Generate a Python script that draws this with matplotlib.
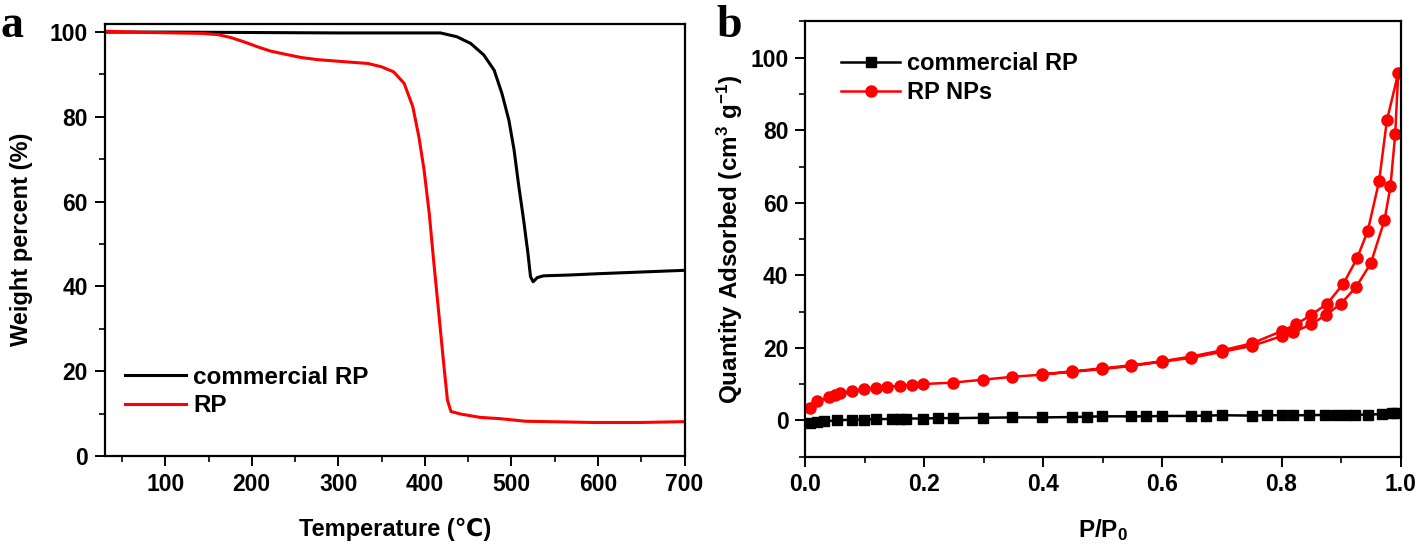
import numpy as np
import matplotlib
matplotlib.use('Agg')
import matplotlib.pyplot as plt
from matplotlib.ticker import MultipleLocator, FormatStrFormatter

plt.rcParams['font.family'] = ['Liberation Sans', 'DejaVu Sans']
plt.rcParams['font.weight'] = 'bold'
plt.rcParams['mathtext.fontset'] = 'custom'
plt.rcParams['mathtext.rm'] = 'Liberation Sans:bold'
plt.rcParams['mathtext.bf'] = 'Liberation Sans:bold'
plt.rcParams['mathtext.default'] = 'bf'

# (a) TGA data
temp_comm = [30, 100, 200, 300, 350, 418, 437, 453, 468, 480, 489, 497, 503, 508, 514,
             519, 522, 525, 530, 537, 568, 600, 650, 700]
wt_comm = [100.0, 100.0, 99.9, 99.8, 99.8, 99.8, 98.9, 97.3, 94.6, 91.0, 85.5, 79.2, 72.2,
           64.3, 55.7, 47.8, 42.3, 41.1, 42.1, 42.5, 42.7, 43.0, 43.4, 43.8]

temp_rp = [30, 84, 142, 161, 176, 191, 207, 222, 238, 257, 276, 295, 314, 334, 350,
           364, 376, 386, 393, 399, 405, 410, 416, 422, 426, 430, 441, 464, 487, 516,
           595, 648, 700]
wt_rp = [100.2, 99.9, 99.7, 99.4, 98.7, 97.7, 96.5, 95.5, 94.8, 94.0, 93.5, 93.2, 92.9,
         92.6, 91.8, 90.6, 87.9, 82.4, 75.3, 67.5, 57.2, 46.2, 33.7, 21.1, 13.2, 10.5,
         9.9, 9.1, 8.8, 8.2, 7.9, 7.9, 8.1]

# (b) N2 isotherm data
p_np = [0.008, 0.019, 0.04, 0.05, 0.058, 0.079, 0.098, 0.118, 0.138, 0.159, 0.179, 0.198,
        0.248, 0.298, 0.348, 0.398, 0.448, 0.498, 0.548, 0.6, 0.648, 0.7, 0.75, 0.8,
        0.82, 0.85, 0.875, 0.9, 0.925, 0.95, 0.973, 0.983, 0.991, 0.996,
        0.977, 0.964, 0.945, 0.927, 0.904, 0.877, 0.85, 0.825, 0.8, 0.75, 0.7, 0.648,
        0.6, 0.548, 0.498, 0.448, 0.398]
q_np = [3.5, 5.2, 6.4, 7.1, 7.4, 8.0, 8.6, 9.0, 9.3, 9.5, 9.8, 10.0,
        10.4, 11.2, 12.0, 12.6, 13.4, 14.1, 15.0, 16.2, 17.2, 18.9, 20.5, 23.2,
        24.3, 26.5, 29.1, 32.2, 36.7, 43.3, 55.2, 64.5, 78.9, 95.7,
        82.7, 66.0, 52.3, 44.7, 37.7, 32.2, 29.1, 26.5, 24.6, 21.2, 19.3, 17.6,
        16.3, 15.2, 14.3, 13.5, 12.7]

p_comm = [0.008, 0.019, 0.031, 0.054, 0.079, 0.098, 0.118, 0.146, 0.159, 0.169, 0.198,
          0.223, 0.248, 0.298, 0.348, 0.398, 0.448, 0.473, 0.498, 0.548, 0.573, 0.6,
          0.648, 0.673, 0.7, 0.75, 0.775, 0.8, 0.82, 0.846, 0.873, 0.892, 0.908, 0.923,
          0.946, 0.969, 0.985, 0.992]
q_comm = [-0.8, -0.5, -0.3, 0.0, 0.2, 0.2, 0.3, 0.4, 0.4, 0.5, 0.5,
          0.6, 0.6, 0.7, 0.8, 0.8, 0.9, 1.0, 1.1, 1.1, 1.1, 1.2,
          1.2, 1.3, 1.4, 1.3, 1.4, 1.4, 1.4, 1.4, 1.5, 1.5, 1.5, 1.5,
          1.6, 1.7, 1.9, 2.1]

fig = plt.figure(figsize=(14.18, 5.44), dpi=100)
ax1 = fig.add_axes([0.0738, 0.1618, 0.409, 0.7948])
ax2 = fig.add_axes([0.5679, 0.1607, 0.4198, 0.7998])


def style(ax):
    for s in ax.spines.values():
        s.set_linewidth(1.6)
    ax.tick_params(which='major', direction='out', length=7, width=1.4,
                   labelsize=16.5, pad=5)
    ax.tick_params(which='minor', direction='out', length=4.3, width=1.2)
    ax.tick_params(top=False, right=False)


ax1.plot(temp_comm, wt_comm, color='black', lw=2.2, label='commercial RP')
ax1.plot(temp_rp, wt_rp, color='#ff0000', lw=2.2, label='RP')
ax1.set_xlim(30, 700)
ax1.set_ylim(0, 102)
ax1.xaxis.set_major_locator(MultipleLocator(100))
ax1.xaxis.set_minor_locator(MultipleLocator(50))
ax1.yaxis.set_major_locator(MultipleLocator(20))
ax1.yaxis.set_minor_locator(MultipleLocator(10))
style(ax1)
ax1.set_xlabel('Temperature (℃)', fontsize=17, fontweight='bold', labelpad=16,
               family=['Liberation Sans', 'DejaVu Sans', 'Noto Sans CJK SC'])
ax1.set_ylabel('Weight percent (%)', fontsize=17, fontweight='bold', labelpad=12)
ax1.legend(loc='lower left', bbox_to_anchor=(0.035, 0.09), frameon=False,
           fontsize=17.5, handlelength=2.5, handletextpad=0.3, labelspacing=0.22,
           borderpad=0, borderaxespad=0)

ax2.plot(p_comm, q_comm, color='black', lw=1.8, marker='s', ms=6.5, label='commercial RP')
ax2.plot(p_np, q_np, color='#ff0000', lw=1.8, marker='o', ms=8, label='RP NPs')
ax2.set_xlim(0, 1.0)
ax2.set_ylim(-10, 110)
ax2.xaxis.set_major_locator(MultipleLocator(0.2))
ax2.xaxis.set_minor_locator(MultipleLocator(0.1))
ax2.yaxis.set_minor_locator(MultipleLocator(10))
ax2.set_yticks([0, 20, 40, 60, 80, 100])
style(ax2)
ax2.xaxis.set_major_formatter(FormatStrFormatter('%.1f'))
ax2.set_xlabel('P/P$_0$', fontsize=17.5, fontweight='bold', labelpad=15)
ax2.set_ylabel('Quantity Adsorbed (cm$^3$ g$^{-1}$)', fontsize=17.5, fontweight='bold',
               labelpad=4)
ax2.legend(loc='upper left', bbox_to_anchor=(0.06, 0.93), frameon=False,
           fontsize=17, handlelength=2.5, handletextpad=0.3, labelspacing=0.25,
           borderpad=0, borderaxespad=0)

fig.text(0.0, 0.952, 'a', family='Liberation Serif', fontweight='bold', fontsize=33,
         va='center', ha='left')
fig.text(0.505, 0.952, 'b', family='Liberation Serif', fontweight='bold', fontsize=33,
         va='center', ha='left')

fig.savefig('out.png', dpi=100)
